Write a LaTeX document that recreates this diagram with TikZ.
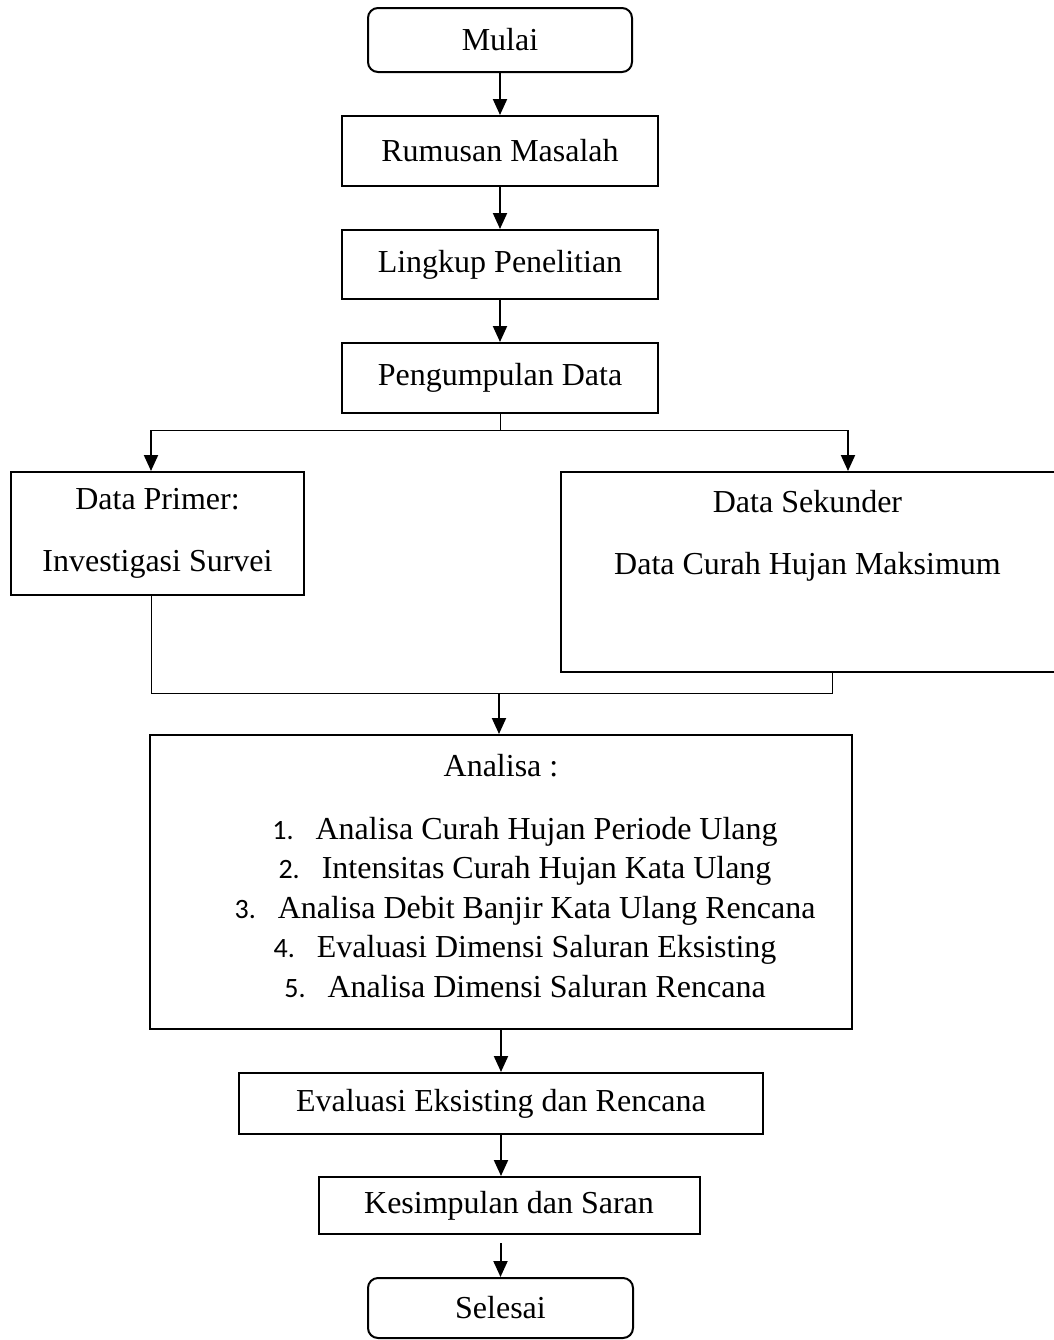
\documentclass[tikz,border=0pt]{standalone}
\usepackage{fontspec}
\setmainfont{Liberation Serif}
\newfontfamily\numfont{Carlito}
\usetikzlibrary{arrows.meta, positioning, calc}
\tikzset{
  flowbox/.style={rectangle, draw=black, line width=1pt, align=center, inner sep=0pt, font=\fontsize{16pt}{31pt}\selectfont},
  termbox/.style={flowbox, rounded corners=5pt},
  plaintext/.style={align=center, inner sep=0pt, font=\fontsize{16pt}{31pt}\selectfont},
  listtext/.style={align=center, inner sep=0pt, font=\fontsize{16pt}{19.8pt}\selectfont},
  arrow/.style={-{Triangle[length=8pt,width=7pt]}, line width=1pt},
  thinline/.style={line width=0.5pt}
}
\newcommand{\listno}[1]{{\numfont\fontsize{14pt}{19.8pt}\selectfont #1.}\hspace{11pt}}

\begin{document}
\begin{tikzpicture}[x=0.5pt, y=-0.5pt]
  \useasboundingbox (0,0) rectangle (1054,1340);
  \node[termbox, minimum width=132pt, minimum height=32pt] (mulai) at (500,40) {Mulai};
  \node[flowbox, minimum width=158pt, minimum height=35pt, below=21pt of mulai] (rumusan) {Rumusan Masalah};
  \node[flowbox, minimum width=158pt, minimum height=34.5pt, below=21pt of rumusan] (lingkup) {Lingkup Penelitian};
  \node[flowbox, minimum width=158pt, minimum height=35pt, below=21pt of lingkup] (kumpul) {Pengumpulan Data};
  \node[flowbox, minimum width=146.5pt, minimum height=61.5pt] (primer) at (157.5,533.5) {Data Primer:\\Investigasi Survei};
  \node[flowbox, minimum width=248.5pt, minimum height=100pt] (sekunder) at (809.5,572) {};
  \node[plaintext, below=9.5pt of sekunder.north, xshift=-1pt] (sekundertxt) {Data Sekunder\\Data Curah Hujan Maksimum};
  \node[flowbox, minimum width=351pt, minimum height=147pt] (analisa) at (501,882) {};
  \node[plaintext, below=10pt of analisa.north] (analisatitle) {Analisa :};
  \node[listtext, below=19.5pt of analisatitle, xshift=12pt] (analisalist) {\listno{1}Analisa Curah Hujan Periode Ulang\\
    \listno{2}Intensitas Curah Hujan Kata Ulang\\
    \listno{3}Analisa Debit Banjir Kata Ulang Rencana\\
    \listno{4}Evaluasi Dimensi Saluran Eksisting\\
    \listno{5}Analisa Dimensi Saluran Rencana};
  \node[flowbox, minimum width=262pt, minimum height=30.5pt, below=21pt of analisa] (evaluasi) {Evaluasi Eksisting dan Rencana};
  \node[flowbox, minimum width=190.5pt, minimum height=28.5pt, below=20.5pt of evaluasi, xshift=4pt] (kesimpulan) {Kesimpulan dan Saran};
  \node[termbox, minimum width=132.5pt, minimum height=30pt] (selesai) at (500.5,1308) {Selesai};

  \draw[arrow] (mulai) -- (rumusan);
  \draw[arrow] (rumusan) -- (lingkup);
  \draw[arrow] (lingkup) -- (kumpul);

  \coordinate (split) at (500,430);
  \coordinate (splitL) at (151,430);
  \coordinate (splitR) at (848,430);
  \draw[thinline] (kumpul.south) -- (split);
  \draw[thinline] (splitL) -- (splitR);
  \draw[arrow] (splitL) -- (splitL |- primer.north);
  \draw[arrow] (splitR) -- (splitR |- sekunder.north);

  \coordinate (joinL) at (151,693);
  \coordinate (joinR) at (832,693);
  \coordinate (join) at (499,693);
  \draw[thinline] (joinL |- primer.south) -- (joinL) -- (joinR) -- (joinR |- sekunder.south);
  \draw[arrow] (join) -- (join |- analisa.north);

  \draw[arrow] (evaluasi.north |- analisa.south) -- (evaluasi.north);
  \draw[arrow] (evaluasi.south) -- (evaluasi.south |- kesimpulan.north);
  \draw[arrow] ($(selesai.north |- kesimpulan.south)+(0,8)$) -- (selesai.north);
\end{tikzpicture}
\end{document}
